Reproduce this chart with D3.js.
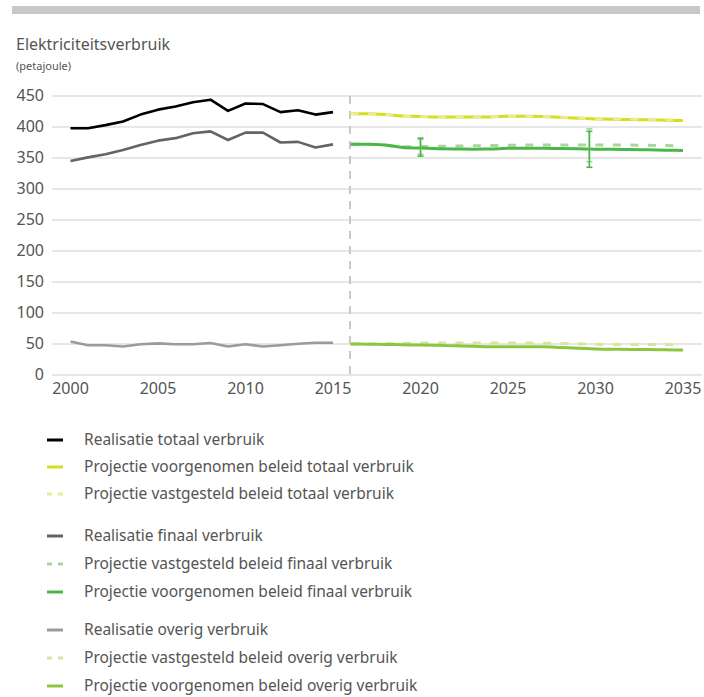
<!DOCTYPE html>
<html><head><meta charset="utf-8">
<script src="https://cdn.jsdelivr.net/npm/d3@7/dist/d3.min.js"></script>
<style>
body{margin:0;background:#fff;}
svg text{font-family:"Noto Sans",sans-serif;}
</style></head>
<body><svg id="c" width="704" height="697"></svg>
<script>
const histYears = [2000,2001,2002,2003,2004,2005,2006,2007,2008,2009,2010,2011,2012,2013,2014,2015];
const projYears = [2016,2017,2018,2019,2020,2021,2022,2023,2024,2025,2026,2027,2028,2029,2030,2031,2032,2033,2034,2035];

const realTotaal  = [398,398,403,409,420,428,433,440,444,426,438,437,424,427,420,424];
const realFinaal  = [345,351,356,363,371,378,382,390,393,379,391,391,375,376,367,372];
const realOverig  = [54,48,48,46,49.5,51,49.5,49.5,51.5,46,49.5,46,48,50.5,52,52];

const voorTotaal  = [421.5,421.5,420,417.7,417,416,416,416.3,416.3,417.5,417.5,417,415.6,414,413,412.5,412,411.5,411,410.3];
const vastTotaal  = [421.5,421.5,420,417.7,417,416,416,416.3,416.3,417.5,417.5,417,415.8,414.4,413.6,413.2,412.8,412.3,411.8,411.2];
const vastFinaal  = [372,372,370.5,368,368.4,368.8,369.4,369.7,370,370.5,371,371,371,371,371,371,370.8,370.4,370,369.7];
const voorFinaal  = [372,372,371,367,366,365,364.5,364.3,364.5,365.6,365.6,365.6,365.3,365,364.3,364,363.8,363.2,362.6,362];
const vastOverig  = [50,50,50.5,51,51.6,51.6,51.6,51.6,51.6,51.6,51.6,51.4,51,50.2,49.5,49.3,49.2,49.1,49,49];
const voorOverig  = [50,49.6,49.2,48.8,48.4,47.8,47,46.3,45.7,45.7,45.7,45.7,44.5,43,42,41.6,41.2,41,40.7,40.3];

// error bars: [year, low, high]
const errVoor = [[2020,353,382],[2029.65,335,393]];
const errVast = [[2020,356,380],[2029.65,344,397]];

const yTicks = [0,50,100,150,200,250,300,350,400,450];
const xTicks = [2000,2005,2010,2015,2020,2025,2030,2035];
const splitYear = 2015.97;

const legendLabels = [
 "Realisatie totaal verbruik",
 "Projectie voorgenomen beleid totaal verbruik",
 "Projectie vastgesteld beleid totaal verbruik",
 "Realisatie finaal verbruik",
 "Projectie vastgesteld beleid finaal verbruik",
 "Projectie voorgenomen beleid finaal verbruik",
 "Realisatie overig verbruik",
 "Projectie vastgesteld beleid overig verbruik",
 "Projectie voorgenomen beleid overig verbruik"
];

const C = {
  realTot:"#000000", voorTot:"#d6de1f", vastTot:"#e8ec94",
  realFin:"#646464", vastFin:"#a9d69c", voorFin:"#4cb748",
  realOv:"#9b9b9b", vastOv:"#d3e6a2", voorOv:"#8cc63f"
};

const svg = d3.select("#c");
const x = d3.scaleLinear().domain([2000,2035]).range([70.5,683]);
const y = d3.scaleLinear().domain([0,450]).range([375,96]);

svg.append("rect").attr("x",12).attr("y",6).attr("width",688).attr("height",8).attr("fill","#c8c8c8");
svg.append("text").attr("x",16).attr("y",50).attr("font-size",16).attr("fill","#555").text("Elektriciteitsverbruik");
svg.append("text").attr("x",16).attr("y",70).attr("font-size",11).attr("fill","#555").text("(petajoule)");

// gridlines
svg.append("g").selectAll("line").data(yTicks).join("line")
  .attr("x1",52).attr("x2",702).attr("y1",d=>y(d)).attr("y2",d=>y(d))
  .attr("stroke","#cfcfcf").attr("stroke-width",1.2);
svg.append("g").selectAll("text").data(yTicks).join("text")
  .attr("x",44).attr("y",d=>y(d)+5).attr("text-anchor","end").attr("font-size",16).attr("fill","#555")
  .text(d=>d);
svg.append("g").selectAll("text").data(xTicks).join("text")
  .attr("x",d=>x(d)).attr("y",394).attr("text-anchor","middle").attr("font-size",16).attr("fill","#555")
  .text(d=>d);

// split line
svg.append("line").attr("x1",x(splitYear)).attr("x2",x(splitYear)).attr("y1",y(450)).attr("y2",y(0))
  .attr("stroke","#c8c8c8").attr("stroke-width",2).attr("stroke-dasharray","8,7");

const lineH = d3.line().x((d,i)=>x(histYears[i])).y(d=>y(d));
const lineP = d3.line().x((d,i)=>x(projYears[i])).y(d=>y(d)).curve(d3.curveMonotoneX);

function draw(gen, data, color, w, dash){
  const p = svg.append("path").datum(data).attr("d",gen).attr("fill","none")
    .attr("stroke",color).attr("stroke-width",w).attr("stroke-linejoin","round");
  if(dash) p.attr("stroke-dasharray",dash);
}
draw(lineH, realTotaal, C.realTot, 2.6);
draw(lineH, realFinaal, C.realFin, 2.6);
draw(lineH, realOverig, C.realOv, 2.6);

draw(lineP, vastOverig, C.vastOv, 3, "8,9.5");
draw(lineP, voorOverig, C.voorOv, 3);
draw(lineP, vastFinaal, C.vastFin, 3, "8,9.5");
draw(lineP, voorFinaal, C.voorFin, 3);
draw(lineP, voorTotaal, C.voorTot, 3);
draw(lineP, vastTotaal, C.vastTot, 3, "8,9.5");

function errbars(data, color){
  const g = svg.append("g").attr("stroke",color).attr("stroke-width",1.6);
  data.forEach(([yr,lo,hi])=>{
    g.append("line").attr("x1",x(yr)).attr("x2",x(yr)).attr("y1",y(lo)).attr("y2",y(hi));
    g.append("line").attr("x1",x(yr)-3).attr("x2",x(yr)+3).attr("y1",y(lo)).attr("y2",y(lo));
    g.append("line").attr("x1",x(yr)-3).attr("x2",x(yr)+3).attr("y1",y(hi)).attr("y2",y(hi));
  });
}
errbars(errVast, C.vastFin);
errbars(errVoor, C.voorFin);

// legend
const legColors = [C.realTot,C.voorTot,C.vastTot,C.realFin,C.vastFin,C.voorFin,C.realOv,C.vastOv,C.voorOv];
const legDashed = [false,false,true,false,true,false,false,true,false];
const legY = [440,467,494,536,564,592,630,658,686];
const lg = svg.append("g");
legendLabels.forEach((t,i)=>{
  lg.append("line").attr("x1",47).attr("x2",63).attr("y1",legY[i]).attr("y2",legY[i])
    .attr("stroke",legColors[i]).attr("stroke-width",3)
    .attr("stroke-dasharray",legDashed[i]?"5,6":null);
  lg.append("text").attr("x",84).attr("y",legY[i]+4.5).attr("font-size",15.5).attr("fill","#555").text(t);
});
</script></body></html>
